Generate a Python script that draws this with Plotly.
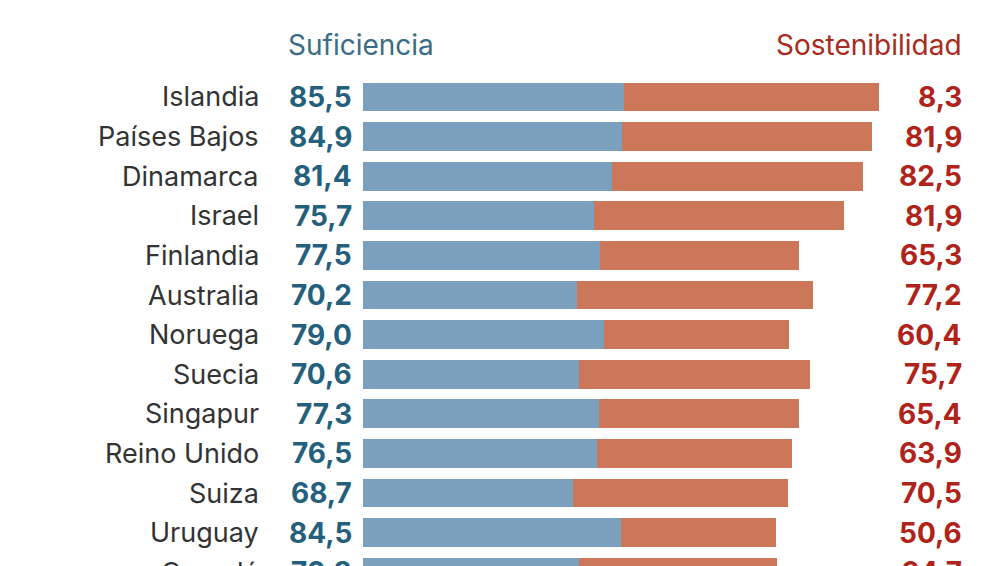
import plotly.graph_objects as go

paises = ["Islandia", "Países Bajos", "Dinamarca", "Israel", "Finlandia", "Australia",
          "Noruega", "Suecia", "Singapur", "Reino Unido", "Suiza", "Uruguay", "Canadá"]
suficiencia = [85.5, 84.9, 81.4, 75.7, 77.5, 70.2, 79.0, 70.6, 77.3, 76.5, 68.7, 84.5, 70.8]
sostenibilidad = [83.5, 81.9, 82.5, 81.9, 65.3, 77.2, 60.4, 75.7, 65.4, 63.9, 70.5, 50.6, 64.7]
# right-hand labels exactly as printed in the original (first one reads "8,3")
sost_texto = ["8,3", "81,9", "82,5", "81,9", "65,3", "77,2", "60,4", "75,7", "65,4",
              "63,9", "70,5", "50,6", "64,7"]

AZUL = "#7ba0bd"
ROJO = "#cc765a"
AZUL_TXT = "#24607c"
ROJO_TXT = "#b0231a"
FONT = "Inter"

def fmt(v):
    return f"{v:.1f}".replace(".", ",")

fig = go.Figure()
fig.add_bar(y=paises, x=suficiencia, orientation="h", marker_color=AZUL,
            marker_line_width=0, width=0.73, hoverinfo="skip")
fig.add_bar(y=paises, x=sostenibilidad, orientation="h", marker_color=ROJO,
            marker_line_width=0, width=0.73, hoverinfo="skip")

ann = []
for p, s, st in zip(paises, suficiencia, sost_texto):
    ann.append(dict(x=-33.4, y=p, text=p, xanchor="right", yanchor="middle", showarrow=False,
                    font=dict(family=FONT, size=27, color="#333333")))
    ann.append(dict(x=-2.9, y=p, text=f"<b>{fmt(s)}</b>", xanchor="right", yanchor="middle",
                    showarrow=False, font=dict(family=FONT, size=28, color=AZUL_TXT)))
    ann.append(dict(x=196.9, y=p, text=f"<b>{st}</b>", xanchor="right", yanchor="middle",
                    showarrow=False, font=dict(family=FONT, size=28, color=ROJO_TXT)))

# page has an 8px body margin: place header texts 8px up/left of target page position
ann.append(dict(x=278 / 1006, y=1 - 37 / 566, xref="paper", yref="paper", text="Suficiencia",
                xanchor="left", yanchor="middle", showarrow=False,
                font=dict(family=FONT, size=28, color="#3a6d84")))
ann.append(dict(x=956 / 1006, y=1 - 37 / 566, xref="paper", yref="paper", text="Sostenibilidad",
                xanchor="right", yanchor="middle", showarrow=False,
                font=dict(family=FONT, size=28, color="#a82a20")))

fig.update_layout(
    width=1006, height=566, barmode="stack", showlegend=False,
    margin=dict(l=0, r=0, t=0, b=0),
    paper_bgcolor="white", plot_bgcolor="white",
    annotations=ann,
    xaxis=dict(range=[-116.3, 213.2], visible=False, fixedrange=True),
    yaxis=dict(range=[12.045, -2.247], visible=False, fixedrange=True),
)

fig.write_html("out.html", config={"displayModeBar": False})
